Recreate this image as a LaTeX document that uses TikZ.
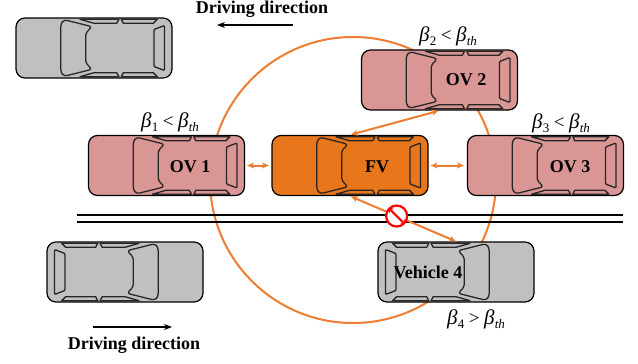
\documentclass[tikz,border=0pt]{standalone}
\usepackage{fontspec}
\setmainfont{Liberation Serif}
\usetikzlibrary{arrows.meta}
\definecolor{ovpink}{HTML}{D99694}
\definecolor{fvorange}{HTML}{E8761A}
\definecolor{linkorange}{HTML}{ED7D31}
\definecolor{cargray}{HTML}{C0C0C0}
\definecolor{stopred}{HTML}{FF0000}
\newcommand\betasub[1]{\kern0.3pt\raisebox{-0.5ex}{\fontsize{13}{13}\selectfont #1}}
\newcommand\betalabel[2]{{\fontsize{21}{21}\selectfont\textit{β}}\betasub{#1}\kern4.5pt{#2}\kern4.5pt{\fontsize{21}{21}\selectfont\textit{β}}\betasub{\itshape th}}
\tikzset{
  carbody/.style={draw=black, line width=1.2pt, rounded corners=9pt, minimum width=156pt, minimum height=60pt, inner sep=0pt},
  cardetail/.style={draw=black!85, line width=1.3pt, line join=round},
  pics/cardet/.style={code={
    \draw[cardetail, rounded corners=3pt] (-30,-28.3) -- (-2,-21.3) -- (-8.3,-15) -- (-8.3,15) -- (-2,21.3) -- (-30,28.3) -- (-33.3,24) -- (-33.3,-24) -- cycle;
    \draw[cardetail] (-14,-28.7) -- (25,-28.7) -- (22.7,-24.7) -- (0,-24.7) -- cycle;
    \draw[cardetail] (27.3,-28.7) -- (63.3,-28.7) -- (59.3,-24.7) -- (29.3,-24.7) -- cycle;
    \draw[cardetail] (-14,28.7) -- (25,28.7) -- (22.7,24.7) -- (0,24.7) -- cycle;
    \draw[cardetail] (27.3,28.7) -- (63.3,28.7) -- (59.3,24.7) -- (29.3,24.7) -- cycle;
    \draw[cardetail, rounded corners=1pt] (60,-18.5) -- (70.5,-22.5) -- (70.5,22.5) -- (60,18.5) -- cycle;
  }},
  cartext/.style={font=\fontsize{18}{18}\selectfont\bfseries, inner sep=0pt},
  betatext/.style={font=\fontsize{19}{19}\selectfont, inner sep=0pt},
  dirtext/.style={font=\fontsize{18}{18}\selectfont\bfseries, inner sep=0pt},
  link/.style={draw=linkorange, line width=2pt, {Stealth[length=7pt,width=6pt]}-{Stealth[length=7pt,width=6pt]}},
  dirarrow/.style={draw=black, line width=2pt, -{Stealth[length=8pt,width=6pt]}},
  road/.style={draw=black, line width=2pt},
  nosign/.style={circle, draw=stopred, line width=2.2pt, fill=white, minimum size=21pt, inner sep=0pt,
    path picture={\draw[stopred, line width=2.2pt] (path picture bounding box.north west) -- (path picture bounding box.south east);}},
}
\begin{document}
\begin{tikzpicture}[x=1pt,y=-1pt]
\useasboundingbox (0,0) rectangle (638,364);
% range circle
\node[circle, draw=linkorange, line width=2pt, minimum size=286pt, inner sep=0pt] (range) at (353,180) {};
% road lines
\coordinate (r1a) at (77,214.5); \coordinate (r1b) at (623,214.5);
\coordinate (r2a) at (77,221.5); \coordinate (r2b) at (623,221.5);
\draw[road] (r1a) -- (r1b);
\draw[road] (r2a) -- (r2b);
% cars
\node[carbody, fill=cargray] (tl) at (94,48) {};
\pic at (tl.center) {cardet};
\node[carbody, fill=cargray] (bl) at (125,272) {};
\pic[xscale=-1] at (bl.center) {cardet};
\node[carbody, fill=ovpink] (ov1) at (166.5,165.5) {};
\pic at (ov1.center) {cardet};
\node[carbody, fill=fvorange] (fv) at (350,165.5) {};
\pic at (fv.center) {cardet};
\node[carbody, fill=ovpink] (ov2) at (439.5,80) {};
\pic at (ov2.center) {cardet};
\node[carbody, fill=ovpink] (ov3) at (545.5,165.5) {};
\pic at (ov3.center) {cardet};
\node[carbody, fill=cargray] (v4) at (456,272) {};
\pic[xscale=-1] at (v4.center) {cardet};
% car texts
\node[cartext] (t1) at (190,167) {OV 1};
\node[cartext] (tf) at (377,167) {FV};
\node[cartext] (t2) at (466,80) {OV 2};
\node[cartext] (t3) at (570,167) {OV 3};
\node[cartext] (t4) at (428,272) {Vehicle 4};
% beta labels
\node[betatext] (b1) at (170,122) {\betalabel{1}{<}};
\node[betatext] (b2) at (448,36) {\betalabel{2}{<}};
\node[betatext] (b3) at (561,123) {\betalabel{3}{<}};
\node[betatext] (b4) at (476,319) {\betalabel{4}{>}};
% links
\draw[link, shorten <=2pt, shorten >=2.5pt] (ov1.east) -- (fv.west);
\draw[link, shorten <=2pt, shorten >=3pt] (fv.east) -- (ov3.west);
\draw[link, shorten <=1pt, shorten >=1pt] (fv.north) -- (ov2.south);
\draw[link, shorten <=1pt, shorten >=0pt] (fv.south) -- node[nosign, pos=0.44] (stop) {} (v4.north);
% driving directions
\node[dirtext] (dtop) at (262,9) {Driving direction};
\coordinate (dtA) at (293,25); \coordinate (dtB) at (217,25);
\draw[dirarrow] (dtA) -- (dtB);
\node[dirtext] (dbot) at (134,345) {Driving direction};
\coordinate (dbA) at (93,327); \coordinate (dbB) at (172,327);
\draw[dirarrow] (dbA) -- (dbB);
\end{tikzpicture}
\end{document}
